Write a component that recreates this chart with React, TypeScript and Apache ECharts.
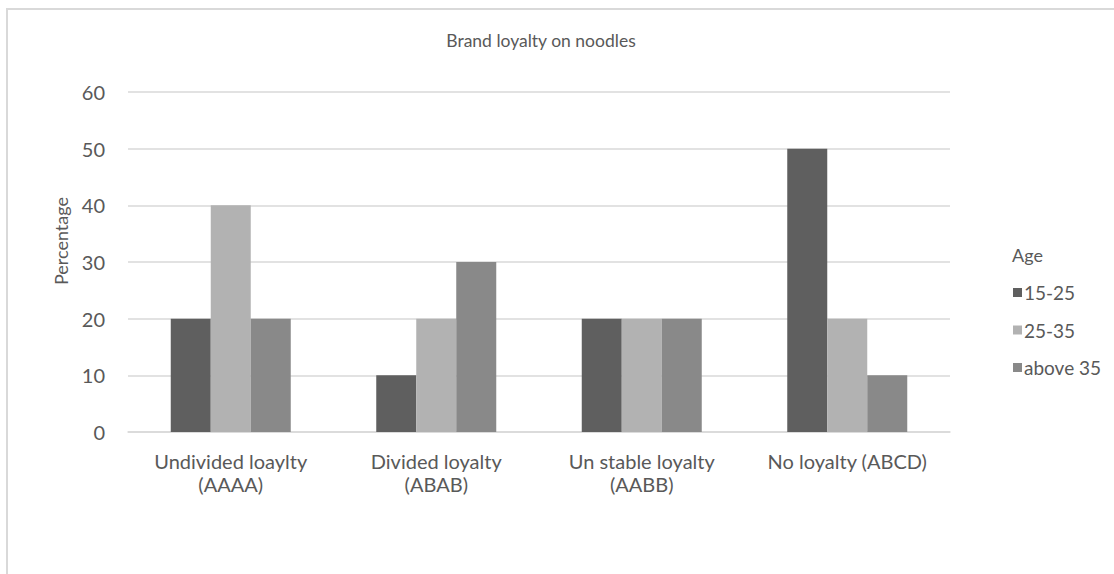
import React, { useEffect, useRef } from "react";
import * as echarts from "echarts";

const categories = [
  "Undivided loaylty\n(AAAA)",
  "Divided loyalty\n(ABAB)",
  "Un stable loyalty\n(AABB)",
  "No loyalty (ABCD)",
];
const seriesNames = ["15-25", "25-35", "above 35"];
const age1525 = [20, 10, 20, 50];
const age2535 = [40, 20, 20, 20];
const ageAbove35 = [20, 30, 20, 10];
const colors = ["#5f5f5f", "#b2b2b2", "#898989"];

const FONT = "Lato, 'Open Sans', sans-serif";
const TEXT = "#595959";

export default function App() {
  const ref = useRef<HTMLDivElement>(null);
  useEffect(() => {
    if (!ref.current) return;
    const chart = echarts.init(ref.current, null, { renderer: "svg" });
    const data = [age1525, age2535, ageAbove35];
    chart.setOption({
      animation: false,
      textStyle: { fontFamily: FONT },
      graphic: [
        {
          type: "rect",
          shape: { x: 7, y: 9, width: 1130, height: 600 },
          style: { fill: "none", stroke: "#d9d9d9", lineWidth: 2 },
          silent: true,
        },
        {
          type: "text",
          x: 541,
          y: 40,
          style: {
            text: "Brand loyalty on noodles",
            fill: TEXT,
            fontSize: 17.5,
            fontFamily: FONT,
            align: "center",
            verticalAlign: "middle",
          },
        },
        {
          type: "text",
          x: 61,
          y: 241,
          rotation: Math.PI / 2,
          style: {
            text: "Percentage",
            fill: TEXT,
            fontSize: 18,
            fontFamily: FONT,
            align: "center",
            verticalAlign: "middle",
          },
        },
        {
          type: "text",
          x: 1012,
          y: 255,
          style: {
            text: "Age",
            fill: TEXT,
            fontSize: 18,
            fontFamily: FONT,
            align: "left",
            verticalAlign: "middle",
          },
        },
      ],
      legend: {
        orient: "vertical",
        left: 1008,
        top: 278,
        itemWidth: 9,
        itemHeight: 9,
        itemGap: 18.5,
        icon: "rect",
        data: seriesNames,
        textStyle: { fontSize: 19, color: TEXT, fontFamily: FONT, padding: [0, 0, 0, -3] },
      },
      grid: { left: 128, right: 164, top: 92, bottom: 142 },
      xAxis: {
        type: "category",
        data: categories,
        axisLine: { lineStyle: { color: "#d9d9d9", width: 1.5 } },
        axisTick: { show: false },
        axisLabel: { fontSize: 20, color: TEXT, lineHeight: 23, margin: 17, fontFamily: FONT, interval: 0 },
      },
      yAxis: {
        type: "value",
        min: 0,
        max: 60,
        interval: 10,
        axisLine: { show: false },
        axisTick: { show: false },
        splitLine: { lineStyle: { color: "#d9d9d9", width: 1.5 } },
        axisLabel: { fontSize: 20, color: TEXT, margin: 23, fontFamily: FONT },
      },
      series: seriesNames.map((name, i) => ({
        name,
        type: "bar",
        data: data[i],
        barWidth: 40,
        barGap: "0%",
        itemStyle: { color: colors[i] },
      })),
    });
    return () => chart.dispose();
  }, []);
  return (
    <div
      ref={ref}
      style={{ position: "absolute", left: 0, top: 0, width: 1114, height: 574 }}
    />
  );
}
